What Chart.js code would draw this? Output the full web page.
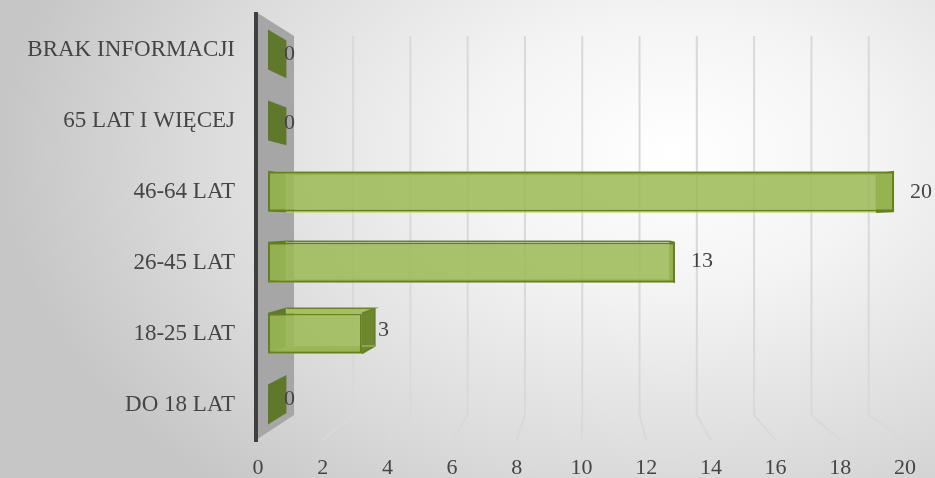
<!DOCTYPE html>
<html lang="pl">
<head>
<meta charset="UTF-8">
<title>Wiek</title>
<style>
  html, body { margin: 0; padding: 0; }
  body {
    width: 935px; height: 478px; overflow: hidden;
    background: radial-gradient(ellipse 72% 95% at 72% 32%, #ffffff 0%, #f4f4f4 30%, #dadada 72%, #c6c6c6 100%);
  }
  #wrap { position: relative; width: 935px; height: 478px; }
</style>
</head>
<body>
<div id="wrap"><canvas id="chart"></canvas></div>

<script src="https://cdn.jsdelivr.net/npm/chart.js"></script>
<script>
  // data (Excel order: first category is drawn at the bottom)
  const categories = ['DO 18 LAT', '18-25 LAT', '26-45 LAT', '46-64 LAT', '65 LAT I WIĘCEJ', 'BRAK INFORMACJI'];
  const counts = [0, 3, 13, 20, 0, 0];
  const xTicks = [0, 2, 4, 6, 8, 10, 12, 14, 16, 18, 20];

  const FONT = '"Liberation Serif", "DejaVu Serif", serif';
  const TEXT = '#454545';
  const depthBar = 0.0575;   // how deep the bars are
  const depthWall = 0.1145;  // how deep the wall / back plane is

  function vanish(area) {
    return { x: area.left + 330, y: area.top + 208 };
  }
  function proj(p, x, y, k) {
    return [x + (p.x - x) * k, y + (p.y - y) * k];
  }
  function quad(ctx, pts, fill) {
    ctx.beginPath();
    ctx.moveTo(pts[0][0], pts[0][1]);
    for (let i = 1; i < pts.length; i++) ctx.lineTo(pts[i][0], pts[i][1]);
    ctx.closePath();
    ctx.fillStyle = fill;
    ctx.fill();
  }

  const fake3d = {
    id: 'fake3d',
    beforeDatasetsDraw(chart) {
      const ctx = chart.ctx;
      const a = chart.chartArea;
      const v = vanish(a);
      const x2 = chart.scales.x2;
      ctx.save();

      // side wall
      const wx = a.left - 2, wt = a.top - 2, wb = a.bottom;
      quad(ctx, [[wx, wt], proj(v, wx, wt, depthWall), proj(v, wx, wb, depthWall), [wx, wb]], '#a6a6a6');
      ctx.strokeStyle = '#3f3f3f';
      ctx.lineWidth = 4;
      ctx.beginPath();
      ctx.moveTo(wx, wt);
      ctx.lineTo(wx, wb + 2);
      ctx.stroke();

      // gridlines on back plane with slanted feet
      ctx.strokeStyle = '#d9d9d9';
      ctx.lineWidth = 2;
      xTicks.forEach(t => {
        if (t === 0) return;
        const f = x2.getPixelForValue(t);
        const top = proj(v, f, wt, depthWall);
        const bot = proj(v, f, wb, depthWall);
        ctx.beginPath();
        ctx.moveTo(top[0], top[1]);
        ctx.lineTo(bot[0], bot[1]);
        ctx.lineTo(f, wb);
        ctx.stroke();
      });

      // bar depth faces
      const meta = chart.getDatasetMeta(0);
      meta.data.forEach(bar => {
        const p = bar.getProps(['x', 'y', 'base', 'height'], true);
        const x0 = p.base, x1 = p.x;
        const yT = p.y - p.height / 2, yB = p.y + p.height / 2;
        const b00 = proj(v, x0, yT, depthBar), b10 = proj(v, x1, yT, depthBar);
        const b11 = proj(v, x1, yB, depthBar), b01 = proj(v, x0, yB, depthBar);
        quad(ctx, [[x0, yB], [x1, yB], b11, b01], '#8aa446');
        quad(ctx, [[x0, yT], [x1, yT], b10, b00], '#a5bd63');
        quad(ctx, [[x0, yT], [x0, yB], b01, b00], '#5f782c');
        if (x1 !== x0) {
          quad(ctx, [[x1, yT], [x1, yB], b11, b10], '#6c872c');
          ctx.strokeStyle = 'rgba(96,124,32,0.9)';
          ctx.lineWidth = 1.5;
          ctx.beginPath();
          ctx.moveTo(x0, yT); ctx.lineTo(b00[0], b00[1]); ctx.lineTo(b10[0], b10[1]);
          ctx.lineTo(x1, yT);
          ctx.moveTo(b10[0], b10[1]); ctx.lineTo(b11[0], b11[1]); ctx.lineTo(x1, yB);
          ctx.stroke();
          ctx.strokeStyle = 'rgba(200,215,150,0.5)';
          ctx.beginPath();
          ctx.moveTo(b00[0], b00[1]); ctx.lineTo(b01[0], b01[1]); ctx.lineTo(b11[0], b11[1]);
          ctx.stroke();
        }
      });
      ctx.restore();
    },
    afterDatasetsDraw(chart) {
      const ctx = chart.ctx;
      const v = vanish(chart.chartArea);
      const meta = chart.getDatasetMeta(0);
      ctx.save();
      ctx.font = '22px ' + FONT;
      ctx.fillStyle = TEXT;
      ctx.textAlign = 'left';
      ctx.textBaseline = 'middle';
      meta.data.forEach((bar, i) => {
        const p = bar.getProps(['x', 'y'], true);
        const y = p.y + (v.y - p.y) * depthBar / 2;
        ctx.fillText(String(counts[i]), p.x + 16, y);
      });
      ctx.restore();
    }
  };

  new Chart(document.getElementById('chart'), {
    type: 'bar',
    data: {
      labels: categories,
      datasets: [{
        data: counts,
        xAxisID: 'x',
        backgroundColor: 'rgba(156,186,86,0.86)',
        borderColor: c => counts[c.dataIndex] === 0 ? 'rgba(0,0,0,0)' : '#66801f',
        borderWidth: 2,
        borderSkipped: false,
        categoryPercentage: 1,
        barPercentage: 0.565
      }]
    },
    options: {
      indexAxis: 'y',
      responsive: true,
      maintainAspectRatio: false,
      animation: false,
      layout: { padding: { left: 0, right: 30, top: 14, bottom: 0 } },
      plugins: {
        legend: { display: false },
        tooltip: { enabled: false }
      },
      scales: {
        // bars sit a little inside the front axis (perspective)
        x: {
          display: false,
          min: -0.32,
          max: 20.35
        },
        x2: {
          position: 'bottom',
          min: 0,
          max: 20,
          afterBuildTicks: s => { s.ticks = xTicks.map(t => ({ value: t })); },
          afterFit: s => { s.height = 38; },
          grid: { display: false, drawTicks: false },
          border: { display: false },
          ticks: { padding: 15, color: TEXT, font: { family: FONT, size: 22 } }
        },
        y: {
          reverse: true,
          afterFit: s => { s.width = 258; s.paddingTop = 0; s.paddingBottom = 0; },
          grid: { display: false, drawTicks: false },
          border: { display: false },
          ticks: { padding: 23, color: TEXT, font: { family: FONT, size: 23 } }
        }
      }
    },
    plugins: [fake3d]
  });
</script>
</body>
</html>
